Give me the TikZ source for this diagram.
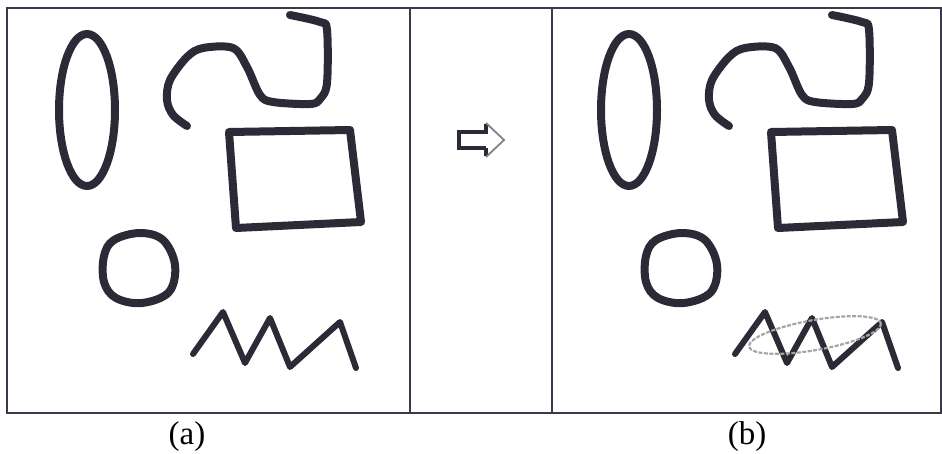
\documentclass[tikz,border=0pt]{standalone}
\usepackage{fontspec}
\setmainfont{Liberation Serif}
\definecolor{ink}{HTML}{2B2B38}
\definecolor{frame}{HTML}{3A3A4A}
\tikzset{
  stroke/.style={draw=ink, line width=8pt, line cap=round, line join=round},
  thinstroke/.style={draw=ink, line width=6pt, line cap=round, line join=round},
  panel/.style={draw=frame, line width=2pt},
  caption/.style={font=\fontsize{33}{35}\selectfont, text=black}
}
\newcommand{\mydrawshapes}{%
  % ellipse
  \draw[stroke] (87,-110) ellipse [x radius=28, y radius=76];
  % wavy curve
  \draw[stroke] plot[smooth, tension=0.55] coordinates {
    (187,-126) (173,-115) (167,-100) (170,-80) (187,-57) (203,-48) (233,-48)
    (247,-67) (260,-95) (273,-102) (310,-104) (320,-99) (327,-83) (327,-30)
    (320,-22) (290,-15)};
  % rectangle
  \draw[stroke] (229,-132) -- (350,-130) -- (361,-222) -- (236,-228) -- cycle;
  % circle
  \draw[stroke] plot[smooth cycle, tension=0.6] coordinates {
    (140,-233) (163,-240) (175,-265) (169,-292) (142,-303) (116,-298)
    (104,-282) (104,-256) (114,-240)};
  % zigzag
  \draw[thinstroke] (193,-354) -- (223,-312) -- (245,-363) -- (270,-318)
    -- (290,-367) -- (340,-322) -- (356,-368);
}
\begin{document}
\begin{tikzpicture}[x=1pt, y=-1pt]
  \useasboundingbox (0,0) rectangle (942,453);
  % frames
  \draw[panel] (7,8) rectangle (941,413);
  \draw[panel] (410,8) -- (410,413);
  \draw[panel] (552,8) -- (552,413);
  % panel (a)
  \begin{scope}[y=1pt]
    \mydrawshapes
  \end{scope}
  % panel (b)
  \begin{scope}[shift={(542,0)}, y=1pt]
    \mydrawshapes
  \end{scope}
  % grey ellipse in (b)
  \draw[gray!70, line width=2.2pt, dash pattern=on 4pt off 1.5pt]
    (815,335) ellipse [x radius=67, y radius=15, rotate=10];
  % arrow
  \draw[draw=ink, line width=4.5pt, line join=miter]
    (486,148) -- (459,148) -- (459,132) -- (486,132) -- (486,124);
  \draw[draw=ink, line width=4.5pt] (486,148) -- (486,156);
  \draw[draw=gray, line width=1.8pt] (486,123) -- (504,140) -- (486,157);
  % captions
  \node[caption] (capa) at (187,437) {(a)};
  \node[caption] (capb) at (747,437) {(b)};
\end{tikzpicture}
\end{document}
